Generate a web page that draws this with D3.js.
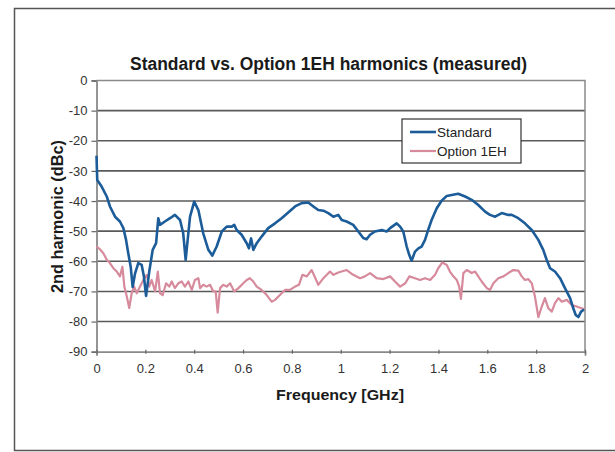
<!DOCTYPE html>
<html lang="en">
<head>
<meta charset="UTF-8">
<title>Standard vs. Option 1EH harmonics</title>
<script src="https://cdn.jsdelivr.net/npm/d3@7"></script>
<style>
  body { margin: 0; background: #fff; }
  svg text { font-family: "Liberation Sans", Arial, sans-serif; }
</style>
</head>
<body>
<div id="chart"></div>
<script>

// frequency ticks (GHz) and dBc ticks
var xTicks = [0, 0.2, 0.4, 0.6, 0.8, 1, 1.2, 1.4, 1.6, 1.8, 2];
var yTicks = [0, -10, -20, -30, -40, -50, -60, -70, -80, -90];
var seriesNames = ["Standard", "Option 1EH"];

// measured traces, [GHz, dBc]
var standard = [
  [0, -25], [0.003, -33], [0.021, -35.2], [0.042, -38.5], [0.055, -41.8], [0.076, -45.2],
  [0.096, -46.8], [0.110, -49], [0.121, -52.9], [0.130, -57.3], [0.140, -61.8], [0.148, -68.5],
  [0.158, -64], [0.171, -60.6], [0.185, -61.2], [0.194, -65], [0.203, -71.5], [0.216, -63.4],
  [0.230, -56.2], [0.244, -54], [0.253, -45.7], [0.260, -47.9], [0.280, -46.8], [0.301, -45.7],
  [0.321, -44.6], [0.342, -46.3], [0.355, -50.7], [0.365, -59.5], [0.383, -45.2], [0.400, -40.2],
  [0.417, -43], [0.437, -50.7], [0.458, -56.2], [0.474, -58.1], [0.492, -55.1], [0.513, -50.1],
  [0.533, -48.5], [0.554, -48.5], [0.564, -47.9], [0.574, -49.6], [0.594, -51.2], [0.615, -54],
  [0.624, -55.7], [0.633, -52.4], [0.642, -56.2], [0.656, -54], [0.676, -51.8], [0.703, -49],
  [0.731, -47.4], [0.758, -45.7], [0.785, -43.8], [0.813, -41.8], [0.840, -40.7], [0.867, -40.5],
  [0.888, -41.8], [0.908, -43], [0.929, -43.2], [0.949, -44], [0.970, -45.2], [0.990, -44.6],
  [1.004, -46.3], [1.024, -46.8], [1.051, -47.9], [1.072, -50.1], [1.092, -52.3], [1.106, -52.7],
  [1.120, -51.2], [1.140, -50.1], [1.168, -49.6], [1.188, -50.1], [1.202, -49], [1.229, -47.4],
  [1.243, -48.5], [1.256, -50.1], [1.270, -55.1], [1.281, -58], [1.290, -59.8], [1.304, -56.8],
  [1.318, -55.7], [1.331, -55.1], [1.345, -52.9], [1.358, -49.6], [1.372, -46.3], [1.393, -42.4],
  [1.413, -39.9], [1.434, -38.3], [1.454, -38], [1.481, -37.6], [1.509, -38.5], [1.536, -39.6],
  [1.563, -41.3], [1.591, -43.5], [1.611, -44.6], [1.632, -45.2], [1.659, -44], [1.686, -44.6],
  [1.700, -44.6], [1.727, -45.7], [1.754, -47.4], [1.782, -49.6], [1.809, -52.9], [1.829, -56.2],
  [1.843, -59.5], [1.857, -62.3], [1.877, -63.4], [1.898, -65.6], [1.918, -68.9], [1.939, -72.2],
  [1.952, -75.6], [1.962, -77.8], [1.973, -78.5], [1.984, -76.7], [1.996, -76]
];

var option1EH = [
  [0, -55], [0.014, -56], [0.028, -57.3], [0.042, -59.5], [0.055, -60.6], [0.069, -62.3],
  [0.083, -63.4], [0.096, -65], [0.106, -61.8], [0.114, -68.4], [0.124, -71.7], [0.134, -75.5],
  [0.144, -70.6], [0.154, -68.4], [0.165, -70.6], [0.178, -68.4], [0.192, -66.2], [0.206, -64.5],
  [0.216, -68.4], [0.226, -66.2], [0.240, -70], [0.251, -63.4], [0.260, -70.6], [0.271, -71.2],
  [0.285, -67.3], [0.298, -68.4], [0.308, -66.7], [0.321, -68.9], [0.335, -67.3], [0.349, -66.7],
  [0.362, -68.4], [0.376, -66.7], [0.390, -69.5], [0.403, -66.2], [0.417, -65.6], [0.424, -68.9],
  [0.437, -67.8], [0.451, -68.4], [0.465, -67.8], [0.478, -70], [0.488, -70], [0.496, -77],
  [0.506, -68.9], [0.519, -67.8], [0.533, -68.4], [0.547, -67.3], [0.564, -70], [0.581, -68.9],
  [0.601, -67.3], [0.615, -66.2], [0.628, -65.6], [0.642, -66.7], [0.656, -68.4], [0.676, -69.5],
  [0.697, -71.2], [0.717, -73.4], [0.731, -72.8], [0.751, -71.2], [0.772, -69.5], [0.792, -69.5],
  [0.813, -68.4], [0.829, -67.8], [0.843, -64.5], [0.861, -65], [0.881, -62.9], [0.908, -67.8],
  [0.929, -65.6], [0.956, -63.4], [0.970, -64.5], [0.990, -63.7], [1.024, -62.9], [1.051, -64.5],
  [1.079, -65.6], [1.099, -65], [1.120, -63.9], [1.147, -65.6], [1.174, -65.9], [1.202, -65],
  [1.222, -66.7], [1.243, -68.4], [1.264, -67.3], [1.281, -65], [1.304, -65.6], [1.325, -66.2],
  [1.345, -65.6], [1.366, -66.2], [1.386, -64.5], [1.399, -62.3], [1.416, -60.4], [1.434, -61.2],
  [1.447, -63.4], [1.461, -65], [1.475, -66.2], [1.485, -68.4], [1.492, -72.5], [1.502, -63.9],
  [1.516, -62.9], [1.536, -63.9], [1.550, -63.4], [1.563, -65], [1.577, -66.7], [1.598, -68.9],
  [1.611, -69.5], [1.625, -67.3], [1.645, -65.6], [1.666, -65], [1.686, -63.9], [1.706, -62.9],
  [1.727, -63.1], [1.741, -65], [1.754, -66.2], [1.768, -65.9], [1.782, -67.3], [1.795, -71.7],
  [1.809, -78.5], [1.823, -75], [1.836, -72.2], [1.850, -75.6], [1.864, -76.7], [1.877, -73.9],
  [1.891, -72.2], [1.905, -73.4], [1.925, -72.8], [1.946, -74.5], [1.966, -75], [1.986, -75.6],
  [2.0, -76]
];

var w = 615, h = 452;
var plotL = 96.5, plotR = 585, plotT = 80.5, plotB = 351.7;
var colors = ["#1b5c99", "#d68a9c"];

var svg = d3.select("#chart").append("svg")
  .attr("width", w)
  .attr("height", h);

// outer frame (runs off the right edge)
svg.append("rect")
  .attr("x", 14.5).attr("y", 8.5)
  .attr("width", 620).attr("height", 442)
  .attr("fill", "none")
  .attr("stroke", "#555")
  .attr("stroke-width", 1.5);

var x = d3.scaleLinear().domain([0, 2]).range([plotL, plotR]);
var y = d3.scaleLinear().domain([0, -90]).range([plotT, plotB]);

// horizontal grid
svg.append("g")
  .selectAll("line")
  .data(yTicks.slice(1, -1))
  .enter()
  .append("line")
  .attr("x1", plotL).attr("x2", plotR)
  .attr("y1", function(d) { return y(d); })
  .attr("y2", function(d) { return y(d); })
  .attr("stroke", "#5a5a5a")
  .attr("stroke-width", 1.6);

// plot border top / right
svg.append("path")
  .attr("d", "M" + plotL + "," + plotT + "H" + plotR + "V" + plotB)
  .attr("fill", "none")
  .attr("stroke", "#8a8a8a")
  .attr("stroke-width", 1.5);

// axes (plain hyphen minus like the original)
var fmt = function(d) { return String(d); };

var yAxis = svg.append("g")
  .attr("transform", "translate(" + plotL + ",0)")
  .call(d3.axisLeft(y).tickValues(yTicks).tickSize(5).tickPadding(4).tickFormat(fmt));

var xAxis = svg.append("g")
  .attr("transform", "translate(0," + plotB + ")")
  .call(d3.axisBottom(x).tickValues(xTicks).tickSize(4).tickPadding(8).tickFormat(fmt));

[yAxis, xAxis].forEach(function(g) {
  g.select(".domain").attr("stroke", "#8a8a8a").attr("stroke-width", 1.8);
  g.selectAll(".tick line").attr("stroke", "#666").attr("stroke-width", 1.2);
  g.selectAll("text")
    .attr("fill", "#333")
    .style("font-family", "'Liberation Sans', Arial, sans-serif")
    .style("font-size", "13px");
});
xAxis.selectAll(".tick line").attr("transform", "translate(0,-2)");

// traces
var line = d3.line()
  .x(function(d) { return x(d[0]); })
  .y(function(d) { return y(d[1]); });

svg.append("path")
  .datum(option1EH)
  .attr("d", line)
  .attr("fill", "none")
  .attr("stroke", colors[1])
  .attr("stroke-width", 2.2)
  .attr("stroke-linejoin", "round");

svg.append("path")
  .datum(standard)
  .attr("d", line)
  .attr("fill", "none")
  .attr("stroke", colors[0])
  .attr("stroke-width", 2.6)
  .attr("stroke-linejoin", "round");

// title (narrow face squeezed with textLength)
svg.append("text")
  .attr("x", 130).attr("y", 70)
  .attr("textLength", 397)
  .attr("lengthAdjust", "spacingAndGlyphs")
  .style("font-size", "18px")
  .style("font-weight", "bold")
  .attr("fill", "#1a1a1a")
  .text("Standard vs. Option 1EH harmonics (measured)");

// axis titles
svg.append("text")
  .attr("x", 276).attr("y", 400)
  .attr("textLength", 128)
  .attr("lengthAdjust", "spacingAndGlyphs")
  .style("font-size", "15px")
  .style("font-weight", "bold")
  .attr("fill", "#1a1a1a")
  .text("Frequency [GHz]");

svg.append("text")
  .attr("transform", "translate(63,293) rotate(-90)")
  .attr("textLength", 153)
  .attr("lengthAdjust", "spacingAndGlyphs")
  .style("font-size", "16px")
  .style("font-weight", "bold")
  .attr("fill", "#1a1a1a")
  .text("2nd harmonic (dBc)");

// legend
var lg = svg.append("g").attr("transform", "translate(402,119)");
lg.append("rect")
  .attr("width", 119).attr("height", 44)
  .attr("fill", "#fff")
  .attr("stroke", "#333")
  .attr("stroke-width", 1.2);

seriesNames.forEach(function(name, i) {
  var yy = 13 + i * 19;
  lg.append("line")
    .attr("x1", 8).attr("x2", 34)
    .attr("y1", yy).attr("y2", yy)
    .attr("stroke", colors[i])
    .attr("stroke-width", i == 0 ? 2.6 : 2.2);
  lg.append("text")
    .attr("x", 35).attr("y", yy + 5)
    .style("font-size", "13.5px")
    .attr("fill", "#222")
    .text(name);
});

</script>
</body>
</html>
